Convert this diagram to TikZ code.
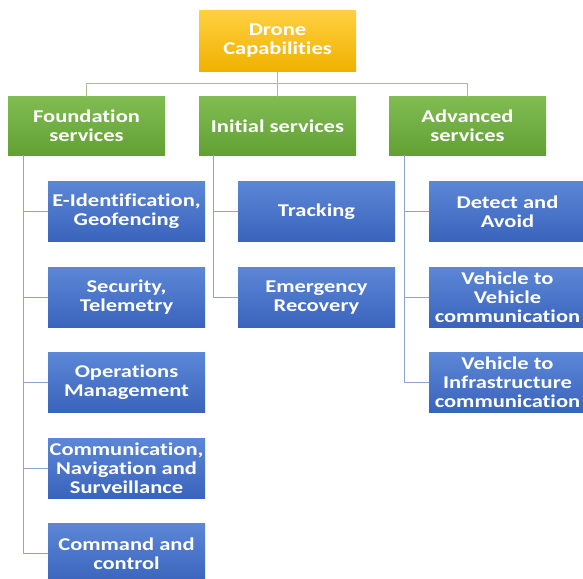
\documentclass[tikz,border=0pt]{standalone}
\usepackage{fontspec}
\setmainfont[FakeStretch=1.25,Ligatures=NoCommon]{Carlito}
\definecolor{goldtop}{RGB}{255,208,64}
\definecolor{goldbot}{RGB}{240,178,0}
\definecolor{greentop}{RGB}{128,188,82}
\definecolor{greenbot}{RGB}{98,160,52}
\definecolor{bluetop}{RGB}{92,134,214}
\definecolor{bluebot}{RGB}{58,100,188}
\definecolor{busgreen}{RGB}{168,192,142}
\definecolor{busblue}{RGB}{140,165,208}
\tikzset{
    box/.style = {minimum width=157pt, minimum height=60pt, inner sep=0pt,
        align=center, text=white, font=\bfseries\fontsize{18}{19}\selectfont},
    root/.style = {box, top color=goldtop, bottom color=goldbot},
    group/.style = {box, minimum height=59pt, top color=greentop, bottom color=greenbot},
    leaf/.style = {box, top color=bluetop, bottom color=bluebot},
    bus/.style = {draw=busgreen, line width=1pt},
    trunk/.style = {draw=busblue, line width=1pt}
}

\begin{document}
\begin{tikzpicture}[line cap=round,line join=round,x=1pt,y=-1pt]
    \useasboundingbox (0,0) rectangle (583,578);

    % top level
    \node[root] (drone) at (277.5,41) {Drone\\Capabilities};

    % service groups
    \node[group] (found) at (86.5,126) {Foundation\\services};
    \node[group] (init) at (277.5,126) {Initial services};
    \node[group] (adv) at (467.5,126) {Advanced\\services};

    % foundation services
    \node[leaf] (eid) at (126.5,211.5) {E-Identification,\\Geofencing};
    \node[leaf] (sec) at (126.5,297.5) {Security,\\Telemetry};
    \node[leaf] (ops) at (126.5,382.5) {Operations\\Management};
    \node[leaf] (cns) at (126.5,468) {Communication,\\Navigation and\\Surveillance};
    \node[leaf] (cmd) at (126.5,553.5) {Command and\\control};

    % initial services
    \node[leaf] (track) at (316.5,211.5) {Tracking};
    \node[leaf] (recov) at (316.5,297.5) {Emergency\\Recovery};

    % advanced services
    \node[leaf] (daa) at (507.5,211.5) {Detect and\\Avoid};
    \node[leaf] (vtov) at (507.5,297.5) {Vehicle to\\Vehicle\\communication};
    \node[leaf] (vtoi) at (507.5,382.5) {Vehicle to\\Infrastructure\\communication};

    % connectors
    \draw[bus] (drone.south) -- ++(0,12) -| (found.north);
    \draw[bus] (drone.south) -- ++(0,12) -| (adv.north);
    \draw[bus] (drone.south) -- (init.north);

    \foreach \c in {eid,sec,ops,cns,cmd}
        \draw[trunk] ([xshift=16pt]found.south west) |- (\c.west);
    \foreach \c in {track,recov}
        \draw[trunk] ([xshift=15pt]init.south west) |- (\c.west);
    \foreach \c in {daa,vtov,vtoi}
        \draw[trunk] ([xshift=16pt]adv.south west) |- (\c.west);
\end{tikzpicture}
\end{document}
